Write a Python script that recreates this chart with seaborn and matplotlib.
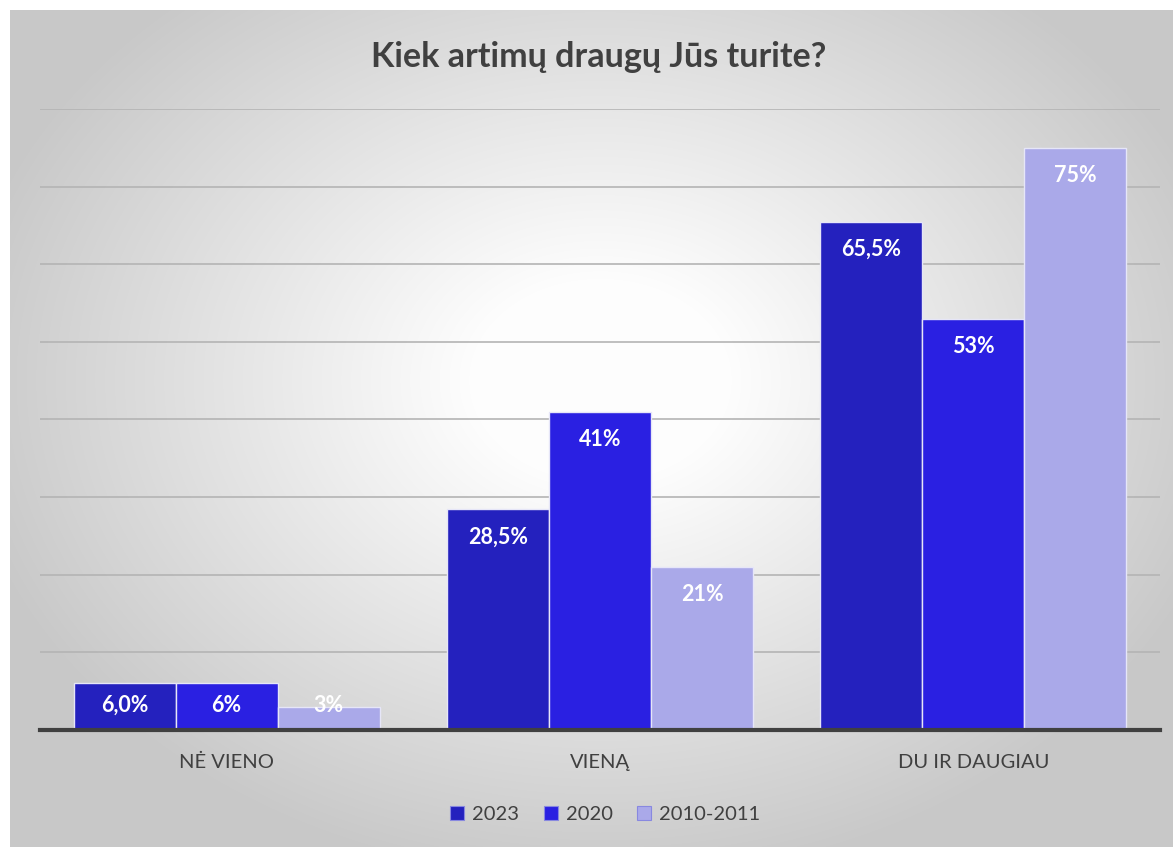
import numpy as np
import pandas as pd
import seaborn as sns
import matplotlib.pyplot as plt
from matplotlib.patches import Patch

# duomenys
kategorijos = ["NĖ VIENO", "VIENĄ", "DU IR DAUGIAU"]
metai = ["2023", "2020", "2010-2011"]
v2023 = [6.0, 28.5, 65.5]
v2020 = [6, 41, 53]
v2010 = [3, 21, 75]
etiketes = [["6,0%", "28,5%", "65,5%"], ["6%", "41%", "53%"], ["3%", "21%", "75%"]]
spalvos = ["#2421BE", "#2A20E2", "#AAA9E9"]

df = pd.DataFrame({
    "kat": kategorijos * 3,
    "metai": [m for m in metai for _ in kategorijos],
    "val": v2023 + v2020 + v2010,
})

sns.set_theme(style="white")
plt.rcParams["font.family"] = ["Lato", "DejaVu Sans"]

W, H = 1173, 847
fig = plt.figure(figsize=(W / 100, H / 100), dpi=100)
fig.patch.set_facecolor("white")

# fonas - radialinis gradientas
bg = fig.add_axes([0, 0, 1, 1], zorder=-5)
yy, xx = np.mgrid[0:H, 0:W]
d = np.sqrt(((xx - 600) / 620.0) ** 2 + ((yy - 380) / 480.0) ** 2)
g = 0.995 - 0.21 * np.clip((d - 0.2) / 0.85, 0, 1)
img = np.dstack([g, g, g])
img[:10, :, :] = 1.0
img[:, :10, :] = 1.0
bg.imshow(img, extent=[0, W, H, 0], aspect="auto", interpolation="bilinear")
bg.set_xlim(0, W)
bg.set_ylim(H, 0)
bg.axis("off")

ax = fig.add_axes([40 / W, (H - 730) / H, 1120 / W, (730 - 109) / H])
ax.set_facecolor("none")
sns.barplot(data=df, x="kat", y="val", hue="metai", palette=spalvos,
            width=0.82, saturation=1, edgecolor="#E6E6F8", linewidth=1,
            ax=ax, legend=False)

ax.set_ylim(0, 80)
ax.set_yticks(np.arange(0, 81, 10))
ax.set_yticklabels([])
ax.tick_params(axis="y", length=0)
ax.yaxis.grid(True, color="#B4B4B4", linewidth=1.2)
ax.set_axisbelow(True)
for s in ["top", "right", "left"]:
    ax.spines[s].set_visible(False)
ax.spines["bottom"].set_color("#404040")
ax.spines["bottom"].set_linewidth(3)
ax.set_xlabel("")
ax.set_ylabel("")
ax.tick_params(axis="x", length=0, pad=17, labelsize=14.5, labelcolor="#404040")
ax.set_xlim(-0.5, 2.5)

for i, cont in enumerate(ax.containers):
    for j, bar in enumerate(cont):
        v = bar.get_height()
        ax.text(bar.get_x() + bar.get_width() / 2, max(v - 3.6, 3.2), etiketes[i][j],
                ha="center", va="center", color="white", fontsize=15.5, fontweight="bold")

fig.text(0.51, 0.933, "Kiek artimų draugų Jūs turite?", ha="center", va="center",
         fontsize=24.5, fontweight="bold", color="#404040")

rankos = [Patch(facecolor=c, edgecolor="#8888E0", linewidth=0.8) for c in spalvos]
fig.legend(rankos, metai, loc="center", bbox_to_anchor=(0.516, 0.038), ncol=3,
           frameon=False, fontsize=14.5, labelcolor="#404040", handlelength=0.7,
           handleheight=0.7, handletextpad=0.4, columnspacing=1.2)

fig.savefig("out.png", dpi=100)
